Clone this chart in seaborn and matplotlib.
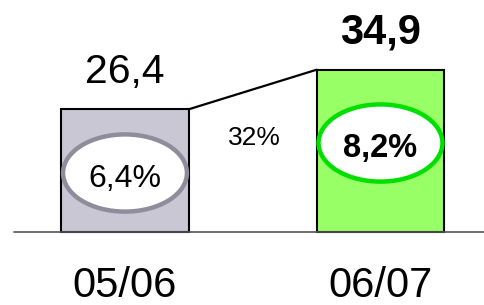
import matplotlib
matplotlib.use("Agg")
import matplotlib.pyplot as plt
from matplotlib.patches import Ellipse
import seaborn as sns
import pandas as pd

categories = ["05/06", "06/07"]
values = [26.4, 34.9]
value_labels = ["26,4", "34,9"]
growth_labels = ["6,4%", "8,2%"]
change_label = "32%"

fills = ["#c9c7d4", "#99ff66"]
ring_colors = ["#8f8c9c", "#00e000"]
weights = ["normal", "bold"]

sns.set_theme(style="white")
plt.rcParams["font.family"] = ["Liberation Sans", "DejaVu Sans"]

df = pd.DataFrame({"period": categories, "value": values})

W, H = 485, 305
fig = plt.figure(figsize=(W / 100, H / 100), dpi=100)
ax = fig.add_axes([0, 0, 1, 1])

sx = 255.5  # px per category unit
sy = 4.65   # px per value unit
base_px = 232

sns.barplot(data=df, x="period", y="value", hue="period", palette=fills,
            width=0.5, edgecolor="black", linewidth=1.5, legend=False, ax=ax,
            saturation=1)

ax.set_xlim(-125 / sx, 1 + (W - 380.5) / sx)
ax.set_ylim(-(H - base_px) / sy, base_px / sy)


def py(px):
    """pixel row (from top) -> data y"""
    return (base_px - px) / sy


ax.axhline(0, xmin=14 / W, xmax=1, color="#555555", lw=1.2, zorder=1)

# connector line between bar tops
ax.plot([0.25, 0.75], [values[0], values[1]], color="black", lw=1.6, zorder=3)
ax.text(0.505, py(145), change_label, ha="center", va="baseline",
        fontsize=19, color="black")

ell_y = [py(173), py(143)]
txt_base = [py(187), py(157)]
for i, v in enumerate(values):
    ax.add_patch(Ellipse((i, ell_y[i]), 0.485, 16.6, facecolor="white",
                         edgecolor=ring_colors[i], lw=3.2, zorder=4))
    ax.text(i, txt_base[i], growth_labels[i], ha="center", va="baseline",
            fontsize=23.5 if i else 23, fontweight=weights[i], color="black",
            zorder=5)
    ax.text(i, v + 26 / sy, value_labels[i], ha="center", va="baseline",
            fontsize=30 if i else 29.5, fontweight=weights[i], color="black")
    ax.text(i, py(297), categories[i], ha="center", va="baseline",
            fontsize=30, color="black")

ax.set_axis_off()
fig.savefig("out.png", dpi=100)
